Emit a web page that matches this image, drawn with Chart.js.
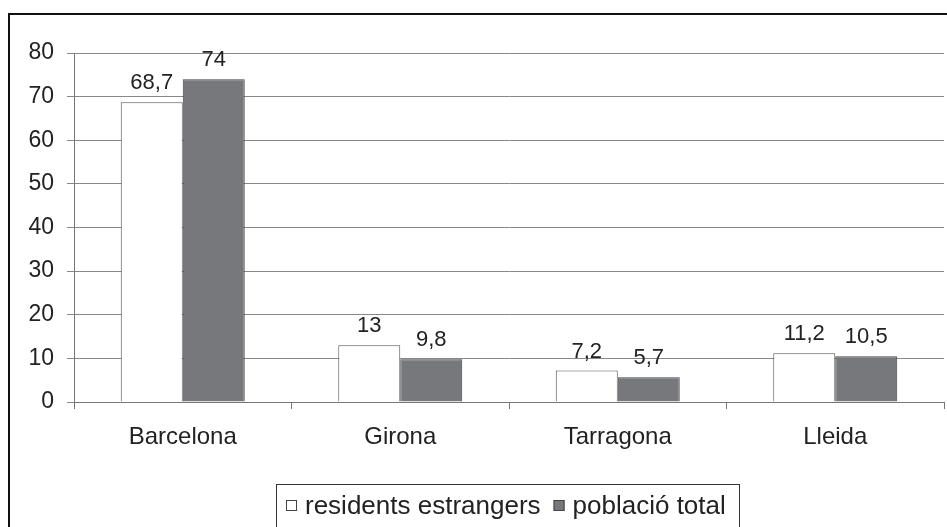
<!DOCTYPE html>
<html>
<head>
<meta charset="utf-8">
<script src="https://cdn.jsdelivr.net/npm/chart.js@4/dist/chart.umd.min.js"></script>
<style>
html,body{margin:0;padding:0;background:#fff;}
#wrap{position:relative;width:947px;height:527px;}
</style>
</head>
<body>
<div id="wrap"><canvas id="c" width="947" height="527"></canvas></div>
<script>
const categories = ["Barcelona", "Girona", "Tarragona", "Lleida"];
const residentsEstrangers = [68.7, 13, 7.2, 11.2];
const poblacioTotal = [74, 9.8, 5.7, 10.5];
const seriesNames = ["residents estrangers", "població total"];
const yTicks = [0, 10, 20, 30, 40, 50, 60, 70, 80];

const FONT = "'Liberation Sans', Arial, sans-serif";
const TXT = "#222";

const decorPlugin = {
  id: "decor",
  beforeDraw(chart) {
    const ctx = chart.ctx;
    ctx.save();
    ctx.fillStyle = "#fff";
    ctx.fillRect(0, 0, chart.width, chart.height);
    ctx.restore();
  },
  afterDatasetsDraw(chart) {
    const ctx = chart.ctx;
    ctx.save();
    ctx.fillStyle = TXT;
    ctx.font = "22px " + FONT;
    ctx.textAlign = "center";
    ctx.textBaseline = "alphabetic";
    chart.data.datasets.forEach((ds, di) => {
      const meta = chart.getDatasetMeta(di);
      meta.data.forEach((bar, i) => {
        const label = String(ds.data[i]).replace(".", ",");
        ctx.fillText(label, bar.x, bar.y - 13);
      });
    });
    ctx.restore();
  },
  afterDraw(chart) {
    const ctx = chart.ctx;
    ctx.save();
    // outer border
    ctx.strokeStyle = "#111";
    ctx.lineWidth = 2;
    ctx.strokeRect(9, 14, 980, 560);
    // legend box
    ctx.strokeStyle = "#333";
    ctx.lineWidth = 1;
    ctx.strokeRect(276.5, 484.5, 463, 60);
    // legend items
    ctx.font = "26px " + FONT;
    ctx.textBaseline = "middle";
    ctx.textAlign = "left";
    const cy = 505.5;
    let x = 286;
    const fills = ["#ffffff", "#77787b"];
    seriesNames.forEach((name, i) => {
      ctx.fillStyle = fills[i];
      ctx.fillRect(x, cy - 5.5, 11, 11);
      ctx.strokeStyle = "#444";
      ctx.lineWidth = 1;
      ctx.strokeRect(x + 0.5, cy - 5, 10, 10);
      ctx.fillStyle = TXT;
      ctx.fillText(name, x + 19, cy + 1);
      x += 19 + ctx.measureText(name).width + 13;
    });
    ctx.restore();
  }
};

new Chart(document.getElementById("c"), {
  type: "bar",
  data: {
    labels: categories,
    datasets: [
      {
        label: seriesNames[0],
        data: residentsEstrangers,
        backgroundColor: "#ffffff",
        borderColor: "#555",
        borderWidth: 1,
        barPercentage: 1,
        categoryPercentage: 0.57
      },
      {
        label: seriesNames[1],
        data: poblacioTotal,
        backgroundColor: "#77787b",
        borderColor: "#444",
        borderWidth: 1,
        barPercentage: 1,
        categoryPercentage: 0.57
      }
    ]
  },
  options: {
    responsive: false,
    animation: false,
    devicePixelRatio: 1,
    layout: { padding: { left: 0, right: 3, top: 53, bottom: 0 } },
    plugins: {
      legend: { display: false },
      tooltip: { enabled: false },
      title: { display: false }
    },
    scales: {
      x: {
        offset: true,
        grid: {
          offset: true,
          drawOnChartArea: false,
          drawTicks: true,
          tickLength: 7,
          color: "#777",
          lineWidth: 1
        },
        border: { display: true, color: "#777", width: 1 },
        ticks: {
          color: TXT,
          font: { family: FONT, size: 24 },
          padding: 14,
          maxRotation: 0
        },
        afterFit(scale) { scale.height = 125; }
      },
      y: {
        min: 0,
        max: 80,
        afterBuildTicks(scale) { scale.ticks = yTicks.map(v => ({ value: v })); },
        grid: {
          color: "#888",
          lineWidth: 1,
          drawTicks: true,
          tickLength: 7
        },
        border: { display: true, color: "#777", width: 1 },
        ticks: {
          color: TXT,
          font: { family: FONT, size: 23 },
          padding: 13
        },
        afterFit(scale) { scale.width = 74; }
      }
    }
  },
  plugins: [decorPlugin]
});
</script>
</body>
</html>
